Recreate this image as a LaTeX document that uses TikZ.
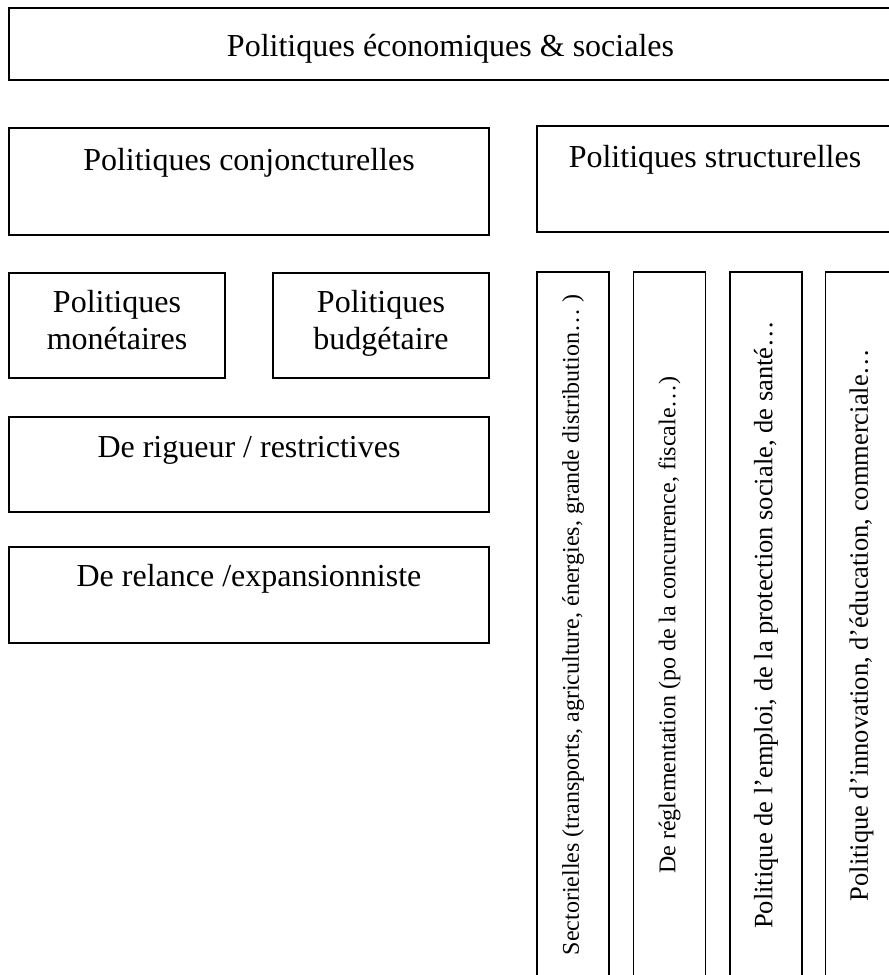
\documentclass[tikz,border=0pt]{standalone}
\usepackage{fontspec}
\setmainfont{Liberation Serif}
\begin{document}
\begin{tikzpicture}[x=1pt,y=-1pt,
  box/.style={draw,line width=1.3pt,inner sep=0pt,align=center,
    font=\fontsize{32}{37}\selectfont},
  colbox/.style={draw,line width=1.3pt,inner sep=0pt,rotate=90,
    minimum width=706pt,minimum height=72pt}]

  % page frame
  \useasboundingbox (0,0) rectangle (889,975);
  \clip (0,0) rectangle (889,975);

  % top level
  \node[box,minimum width=883pt,text height=48pt,text depth=24pt] (ecosoc)
    at (450.5,44) {Politiques économiques \& sociales};

  % two families
  \node[box,minimum width=480pt,text height=42pt,text depth=65pt] (conj)
    at (249,181.5) {Politiques conjoncturelles};
  \node[box,minimum width=356pt,text height=41pt,text depth=65pt] (struct)
    at (715,179) {Politiques structurelles};

  % conjoncturelles: instruments
  \node[box,minimum width=216pt,text height=76pt,text depth=29pt] (monet)
    at (117,325.5) {Politiques\\monétaires};
  \node[box,minimum width=216pt,text height=76pt,text depth=29pt] (budget)
    at (381,325.5) {Politiques\\budgétaire};

  % conjoncturelles: orientation
  \node[box,minimum width=480pt,text height=40pt,text depth=55pt] (rigueur)
    at (249,464.5) {De rigueur / restrictives};
  \node[box,minimum width=480pt,text height=39pt,text depth=57pt] (relance)
    at (249,595) {De relance /expansionniste};

  % structurelles: vertical columns
  \node[colbox,font=\fontsize{24}{28}\selectfont] (sector) at (573,625)
    {Sectorielles (transports, agriculture, énergies, grande distribution… )};
  \node[colbox,font=\fontsize{24}{28}\selectfont] (reglem) at (669.5,625)
    {De réglementation (po de la concurrence, fiscale…)};
  \node[colbox,font=\fontsize{26.5}{30}\selectfont] (emploi) at (766,625)
    {Politique de l’emploi, de la protection sociale, de santé…};
  \node[colbox,font=\fontsize{26.5}{30}\selectfont] (innov) at (861.5,625)
    {Politique d’innovation, d’éducation, commerciale…};

\end{tikzpicture}
\end{document}
